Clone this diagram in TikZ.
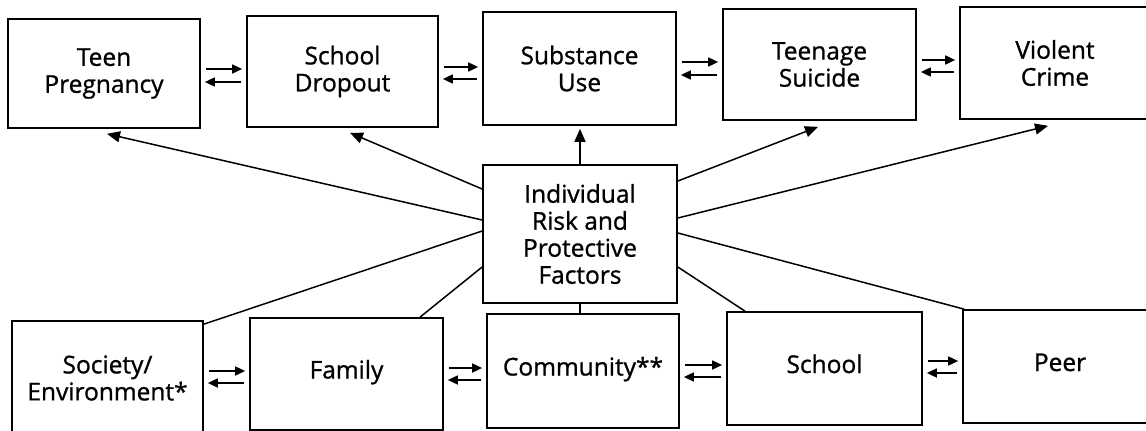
\documentclass[tikz,border=0pt]{standalone}
\usepackage{fontspec}
\setmainfont{Open Sans}[FakeBold=1]
\usetikzlibrary{arrows.meta,calc}
\begin{document}
\begin{tikzpicture}[x=1pt,y=-1pt,
  box/.style={draw,line width=1.7pt,rectangle,align=center,font=\fontsize{24.5}{27}\selectfont,inner sep=0pt},
  one/.style={text height=18pt,text depth=9pt},
  arr/.style={line width=1.7pt,-{Triangle[length=10pt,width=9pt]},shorten <=5pt,shorten >=4pt},
  larr/.style={line width=1.5pt,-{Triangle[length=13pt,width=11pt]}},
  lnk/.style={line width=1.5pt}]
\useasboundingbox (0,0) rectangle (1146,431);
\clip (0,0) rectangle (1146,431);
% top row
\node[box,minimum width=192pt,minimum height=109pt] (tp) at (104,73.5) {Teen\\Pregnancy};
\node[box,minimum width=191pt,minimum height=111pt] (sd) at (342.5,71.5) {School\\Dropout};
\node[box,minimum width=193pt,minimum height=113pt] (su) at (579.5,68.5) {Substance\\Use};
\node[box,minimum width=193pt,minimum height=111pt] (ts) at (819.5,64.5) {Teenage\\Suicide};
\node[box,minimum width=190pt,minimum height=112pt] (vc) at (1055,63) {Violent\\Crime};
% centre
\node[box,minimum width=194pt,minimum height=138pt] (ind) at (580,234) {Individual\\Risk and\\Protective\\Factors};
% bottom row
\node[box,minimum width=191pt,minimum height=114pt] (soc) at (107.5,378) {Society/\\Environment*};
\node[box,one,minimum width=193pt,minimum height=112pt] (fam) at (346.5,374) {Family};
\node[box,one,minimum width=192pt,minimum height=114pt] (com) at (583,371) {Community**};
\node[box,one,minimum width=195pt,minimum height=113pt] (sch) at (824.5,368.5) {School};
\node[box,one,minimum width=194pt,minimum height=113pt] (peer) at (1060,366.5) {Peer};
% levels of the paired arrows
\coordinate (a1) at (0,69);  \coordinate (b1) at (0,82);
\coordinate (a2) at (0,67);  \coordinate (b2) at (0,79);
\coordinate (a3) at (0,62);  \coordinate (b3) at (0,75);
\coordinate (a4) at (0,60);  \coordinate (b4) at (0,72);
\coordinate (a5) at (0,371); \coordinate (b5) at (0,383);
\coordinate (a6) at (0,368); \coordinate (b6) at (0,380);
\coordinate (a7) at (0,365); \coordinate (b7) at (0,377);
\coordinate (a8) at (0,361); \coordinate (b8) at (0,373);
% paired arrows, top row
\draw[arr] (tp.east |- a1) -- (sd.west |- a1);
\draw[arr] (sd.west |- b1) -- (tp.east |- b1);
\draw[arr] (sd.east |- a2) -- (su.west |- a2);
\draw[arr] (su.west |- b2) -- (sd.east |- b2);
\draw[arr] (su.east |- a3) -- (ts.west |- a3);
\draw[arr] (ts.west |- b3) -- (su.east |- b3);
\draw[arr] (ts.east |- a4) -- (vc.west |- a4);
\draw[arr] (vc.west |- b4) -- (ts.east |- b4);
% paired arrows, bottom row
\draw[arr] (soc.east |- a5) -- (fam.west |- a5);
\draw[arr] (fam.west |- b5) -- (soc.east |- b5);
\draw[arr] (fam.east |- a6) -- (com.west |- a6);
\draw[arr] (com.west |- b6) -- (fam.east |- b6);
\draw[arr] (com.east |- a7) -- (sch.west |- a7);
\draw[arr] (sch.west |- b7) -- (com.east |- b7);
\draw[arr] (sch.east |- a8) -- (peer.west |- a8);
\draw[arr] (peer.west |- b8) -- (sch.east |- b8);
% arrows from the centre to the outcomes
\draw[larr] ([yshift=14pt]ind.west) -- ([xshift=3pt,yshift=-5pt]tp.south);
\draw[larr] ([yshift=45pt]ind.west) -- ([xshift=7.5pt,yshift=-5pt]sd.south);
\draw[larr,shorten >=3pt] (ind.north) -- (ind.north |- su.south);
\draw[larr] ([yshift=53pt]ind.east) -- ([xshift=-1.5pt,yshift=-6pt]ts.south);
\draw[larr] ([yshift=16pt]ind.east) -- ([xshift=-7pt,yshift=-6pt]vc.south);
% links from the centre to the domains
\draw[lnk] ([yshift=-4pt]soc.north east) -- ([yshift=3pt]ind.west);
\draw[lnk] ([xshift=73.5pt]fam.north) -- ([yshift=-33pt]ind.west);
\draw[lnk] (ind.south) -- (ind.south |- com.north);
\draw[lnk] ([yshift=-33pt]ind.east) -- ([xshift=-79.5pt]sch.north);
\draw[lnk] ([yshift=1pt]ind.east) -- ([xshift=2pt]peer.north west);
\end{tikzpicture}
\end{document}
